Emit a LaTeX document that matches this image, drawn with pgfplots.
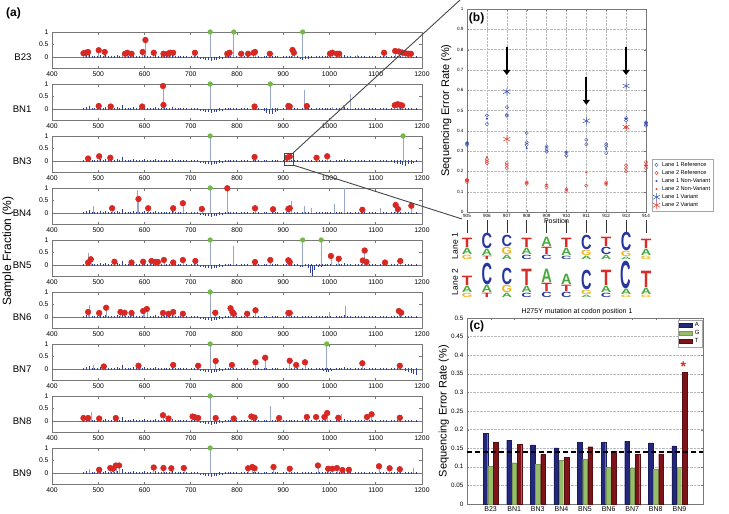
\documentclass[border=0pt]{standalone}
\usepackage{fontspec}
\setmainfont{Liberation Sans}
\usepackage{graphicx}
\usepackage{pgfplots}
\usepackage{pgfplotstable}
\pgfplotsset{compat=1.18}
\usetikzlibrary{arrows.meta}

\definecolor{axgray}{RGB}{120,120,120}
\definecolor{noiseblue}{RGB}{45,65,155}
\definecolor{stemgray}{RGB}{150,165,200}
\definecolor{dotred}{RGB}{215,40,35}
\definecolor{dotgreen}{RGB}{115,185,70}
\definecolor{lblue}{RGB}{60,80,180}
\definecolor{lred}{RGB}{230,60,50}
\definecolor{barA}{RGB}{35,40,125}
\definecolor{barG}{RGB}{150,190,105}
\definecolor{barT}{RGB}{125,20,25}
\definecolor{logoC}{RGB}{40,55,160}
\definecolor{logoT}{RGB}{215,45,40}
\definecolor{logoA}{RGB}{70,170,60}
\definecolor{logoG}{RGB}{240,180,30}

% shared background of small error spikes (sample fraction, %)
\pgfplotstableread{
x up dn
468 .05 -.02
474 .08 -.03
480 .12 -.02
486 .04 -.04
492 .06 -.02
498 .03 -.03
504 .07 -.02
510 .05 -.04
516 .09 -.02
522 .04 -.03
528 .06 -.02
534 .03 -.03
540 .08 -.02
546 .05 -.04
552 .15 -.02
558 .04 -.03
564 .06 -.02
570 .03 -.03
576 .07 -.02
582 .05 -.04
588 .04 -.02
594 .06 -.03
600 .10 -.02
606 .03 -.03
612 .05 -.02
618 .04 -.04
624 .07 -.02
630 .03 -.03
636 .05 -.02
642 .04 -.03
648 .06 -.02
654 .03 -.04
660 .08 -.02
666 .04 -.03
672 .03 -.02
678 .05 -.03
684 .04 -.02
690 .06 -.03
696 .02 -.02
702 .04 -.04
708 .03 -.03
714 .05 -.04
720 .02 -.06
726 .01 -.09
732 .02 -.11
738 .01 -.13
744 .02 -.15
750 .01 -.13
756 .02 -.12
762 .03 -.09
768 .02 -.06
774 .04 -.03
780 .03 -.02
786 .05 -.03
792 .03 -.02
798 .04 -.04
804 .02 -.02
810 .05 -.03
816 .03 -.02
822 .04 -.03
828 .02 -.02
834 .06 -.04
840 .03 -.02
846 .04 -.03
852 .02 -.02
858 .03 -.03
864 .05 -.02
870 .02 -.04
876 .04 -.02
882 .03 -.03
888 .05 -.02
894 .02 -.03
900 .04 -.02
906 .03 -.04
912 .06 -.02
918 .04 -.03
924 .03 -.02
930 .05 -.03
936 .02 -.02
942 .04 -.04
948 .06 -.02
954 .03 -.03
960 .05 -.02
966 .02 -.03
972 .04 -.02
978 .03 -.04
984 .05 -.02
990 .04 -.03
996 .03 -.02
1002 .06 -.03
1008 .02 -.02
1014 .05 -.04
1020 .04 -.02
1026 .03 -.03
1032 .07 -.02
1038 .03 -.03
1044 .04 -.02
1050 .02 -.04
1056 .05 -.02
1062 .03 -.03
1068 .04 -.02
1074 .06 -.03
1080 .02 -.02
1086 .04 -.04
1092 .03 -.02
1098 .05 -.03
1104 .02 -.02
1110 .04 -.03
1116 .03 -.02
1122 .05 -.04
1128 .02 -.02
1134 .04 -.03
1140 .06 -.02
1146 .03 -.03
1152 .05 -.02
1158 .02 -.04
1164 .04 -.02
1170 .03 -.03
1176 .05 -.02
1182 .02 -.03
1188 .04 -.02
}\noisetab

\pgfplotsset{
  arow/.style={
    scale only axis, width=370pt, height=36.5pt, anchor=north west,
    xmin=400, xmax=1200, ymin=-0.46, ymax=1,
    xtick={400,500,...,1200}, ytick={0,0.5,1},
    tick align=inside, major tick length=2.5pt,
    axis line style={axgray, line width=0.6pt},
    tick style={axgray, line width=0.5pt},
    ticklabel style={font=\fontsize{6.8}{7}\selectfont},
    /pgf/number format/assume math mode=true,
    /pgf/number format/set thousands separator={},
    scaled ticks=false,
    clip=false},
  zeroline/.style={axgray, line width=0.5pt, no markers},
  noise/.style={ycomb, noiseblue, line width=0.4pt, no markers},
  stem/.style={ycomb, stemgray, line width=0.5pt, no markers},
  gstem/.style={ycomb, stemgray, line width=0.6pt, mark=*, mark size=2.3pt,
    mark options={fill=dotgreen, draw=dotgreen}},
  rstem/.style={ycomb, stemgray, line width=0.6pt, mark=*, mark size=2.8pt,
    mark options={fill=dotred, draw=dotred}},
}
\tikzset{rowlab/.style={anchor=east, xshift=-17pt, font=\fontsize{9.6}{11}\selectfont}}

\newcommand\logo[5]{\pgfmathsetmacro\hh{#3-0.7}\node[inner sep=0pt, anchor=north, text=#5] at (#1pt,-#2pt)
  {\resizebox{10.5pt}{\hh pt}{\bfseries #4}};}

\begin{document}
\begin{tikzpicture}
\useasboundingbox (0,0) rectangle (729pt,-514pt);

% ---------------- panel (a) ----------------
\begin{axis}[arow, at={(52pt,-32pt)}]
\addplot[zeroline] coordinates {(400,0) (1200,0)};
\addplot[noise] table[x=x,y=up] {\noisetab};
\addplot[noise] table[x=x,y=dn] {\noisetab};
\addplot[noise] coordinates {(930,-.05) (936,-.08) (942,-.1) (948,-.09) (954,-.06)};
\addplot[stem] coordinates {(552,.22) (1060,.1)};
\addplot[gstem] coordinates {(742,1) (793,1) (942,1)};
\addplot[rstem] coordinates {(468,.15) (473,.17) (478,.2) (501,.27) (514,.2) (558,.13) (563,.17) (572,.13) (596,.2) (602,.68) (620,.17) (641,.13) (650,.13) (655,.17) (662,.17) (709,.17) (779,.13) (784,.17) (809,.13) (824,.13) (836,.17) (839,.2) (871,.13) (920,.28) (923,.17) (1001,.13) (1006,.17) (1016,.13) (1021,.13) (1118,.17) (1142,.24) (1150,.22) (1157,.18) (1164,.15) (1170,.13) (1176,.13)};
\node[rowlab] at (axis cs:400,0) {B23};
\end{axis}

\begin{axis}[arow, at={(52pt,-84pt)}]
\addplot[zeroline] coordinates {(400,0) (1200,0)};
\addplot[noise] table[x=x,y=up] {\noisetab};
\addplot[noise] table[x=x,y=dn] {\noisetab};
\addplot[noise] coordinates {(852,-.05) (858,-.09) (864,-.14) (870,-.2) (876,-.18) (882,-.12) (888,-.07)};
\addplot[stem] coordinates {(945,.75) (1045,.6) (1030,.15) (1005,.1)};
\addplot[gstem] coordinates {(742,1) (872,1)};
\addplot[rstem] coordinates {(501,.12) (527,.1) (595,.1) (640,.92) (641,.16) (838,.1) (911,.12) (914,.1) (951,.12) (1141,.15) (1147,.19) (1152,.17) (1157,.14)};
\node[rowlab] at (axis cs:400,0) {BN1};
\end{axis}

\begin{axis}[arow, at={(52pt,-136pt)}]
\addplot[zeroline] coordinates {(400,0) (1200,0)};
\addplot[noise] table[x=x,y=up] {\noisetab};
\addplot[noise] table[x=x,y=dn] {\noisetab};
\addplot[noise] coordinates {(1140,-.06) (1146,-.1) (1152,-.13) (1158,-.15) (1164,-.18) (1170,-.12) (1176,-.1) (1182,-.07)};
\addplot[gstem] coordinates {(742,1) (1159,1)};
\addplot[rstem] coordinates {(478,.1) (502,.19) (526,.13) (838,.16) (908,.13) (914,.18) (972,.13) (995,.19)};
\node[rowlab] at (axis cs:400,0) {BN3};
\end{axis}

\begin{axis}[arow, at={(52pt,-188pt)}]
\addplot[zeroline] coordinates {(400,0) (1200,0)};
\addplot[noise] table[x=x,y=up] {\noisetab};
\addplot[noise] table[x=x,y=dn] {\noisetab};
\addplot[stem] coordinates {(490,.3) (584,.92) (918,.5) (946,.3) (1011,.38) (1031,1) (1110,.2) (960,.2)};
\addplot[gstem] coordinates {(742,1)};
\addplot[rstem] coordinates {(530,.19) (587,.56) (608,.19) (662,.19) (683,.39) (724,.16) (779,.99) (839,.19) (878,.15) (911,.16) (914,.19) (1071,.13) (1143,.32) (1148,.16) (1177,.29)};
\node[rowlab] at (axis cs:400,0) {BN4};
\end{axis}

\begin{axis}[arow, at={(52pt,-240pt)}]
\addplot[zeroline] coordinates {(400,0) (1200,0)};
\addplot[noise] table[x=x,y=up] {\noisetab};
\addplot[noise] table[x=x,y=dn] {\noisetab};
\addplot[noise] coordinates {(936,-.06) (942,-.08) (948,-.05) (954,-.1) (958,-.3) (963,-.45) (968,-.2) (976,-.06) (982,-.08) (988,-.05)};
\addplot[stem] coordinates {(478,.5) (791,.75)};
\addplot[gstem] coordinates {(742,1) (942,1) (982,1)};
\addplot[rstem] coordinates {(478,.1) (484,.23) (535,.13) (572,.1) (597,.13) (615,.16) (624,.12) (629,.12) (642,.2) (662,.1) (683,.2) (710,.16) (839,.12) (872,.2) (911,.19) (914,.12) (1003,.36) (1020,.25) (1072,.18) (1076,.58) (1080,.12) (1120,.1) (1153,.16)};
\node[rowlab] at (axis cs:400,0) {BN5};
\end{axis}

\begin{axis}[arow, at={(52pt,-292pt)}]
\addplot[zeroline] coordinates {(400,0) (1200,0)};
\addplot[noise] table[x=x,y=up] {\noisetab};
\addplot[noise] table[x=x,y=dn] {\noisetab};
\addplot[stem] coordinates {(480,.5) (600,.25) (1000,.2) (1035,.45)};
\addplot[gstem] coordinates {(742,1)};
\addplot[rstem] coordinates {(478,.2) (502,.16) (517,.37) (548,.2) (557,.17) (572,.16) (597,.24) (605,.32) (640,.16) (652,.13) (662,.2) (683,.13) (753,.17) (786,.35) (790,.2) (793,.13) (822,.13) (840,.27) (911,.16) (914,.16) (1150,.24) (1155,.17)};
\node[rowlab] at (axis cs:400,0) {BN6};
\end{axis}

\begin{axis}[arow, at={(52pt,-344pt)}]
\addplot[zeroline] coordinates {(400,0) (1200,0)};
\addplot[noise] table[x=x,y=up] {\noisetab};
\addplot[noise] table[x=x,y=dn] {\noisetab};
\addplot[noise] coordinates {(980,-.05) (986,-.08) (992,-.12) (998,-.1) (1004,-.08) (1010,-.05) (1164,-.06) (1170,-.1) (1176,-.16) (1182,-.2) (1188,-.22)};
\addplot[stem] coordinates {(490,.15) (590,.12)};
\addplot[gstem] coordinates {(742,1) (994,1)};
\addplot[rstem] coordinates {(512,.1) (587,.13) (662,.16) (716,.13) (754,.32) (789,.16) (840,.27) (861,.45) (914,.33) (928,.16) (947,.27) (1071,.23) (1152,.13)};
\node[rowlab] at (axis cs:400,0) {BN7};
\end{axis}

\begin{axis}[arow, at={(52pt,-396pt)}]
\addplot[zeroline] coordinates {(400,0) (1200,0)};
\addplot[noise] table[x=x,y=up] {\noisetab};
\addplot[noise] table[x=x,y=dn] {\noisetab};
\addplot[stem] coordinates {(485,.35) (872,.62) (1025,.3)};
\addplot[gstem] coordinates {(742,1)};
\addplot[rstem] coordinates {(468,.12) (478,.12) (502,.1) (538,.12) (640,.23) (652,.1) (704,.18) (709,.15) (716,.12) (754,.12) (793,.1) (831,.18) (838,.14) (891,.12) (951,.16) (971,.16) (989,.16) (995,.32) (1019,.13) (1081,.16) (1091,.27) (1152,.13)};
\node[rowlab] at (axis cs:400,0) {BN8};
\end{axis}

\begin{axis}[arow, at={(52pt,-448pt)}]
\addplot[zeroline] coordinates {(400,0) (1200,0)};
\addplot[noise] table[x=x,y=up] {\noisetab};
\addplot[noise] table[x=x,y=dn] {\noisetab};
\addplot[stem] coordinates {(480,.15) (1182,.2)};
\addplot[gstem] coordinates {(742,1)};
\addplot[rstem] coordinates {(502,.13) (526,.2) (532,.17) (538,.3) (545,.3) (620,.22) (641,.2) (658,.19) (685,.2) (824,.19) (833,.24) (838,.19) (879,.24) (914,.17) (975,.3) (997,.17) (1006,.17) (1016,.2) (1028,.12) (1042,.13) (1107,.27) (1130,.19) (1152,.15)};
\node[rowlab] at (axis cs:400,0) {BN9};
\end{axis}

\node[font=\bfseries\fontsize{12}{14}\selectfont, anchor=north west, inner sep=0pt] at (6pt,-8pt) {(a)};
\node[rotate=90, font=\fontsize{12}{14}\selectfont, inner sep=0pt] at (8pt,-251pt) {Sample Fraction (\%)};

% zoom box and connector lines
\draw[gray!55!black, line width=0.9pt] (284pt,-153pt) rectangle (293pt,-165pt);
\draw[gray!55!black, line width=0.9pt] (293pt,-153pt) -- (460pt,0pt);
\draw[gray!55!black, line width=0.9pt] (293pt,-165pt) -- (462pt,-219pt);

% ---------------- panel (b) ----------------
\begin{axis}[scale only axis, width=179pt, height=203pt, at={(467pt,-9pt)}, anchor=north west,
  xmin=905, xmax=914, ymin=0, ymax=1,
  xtick={905,906,...,914}, ytick={0,0.1,0.2,0.3,0.4,0.5,0.6,0.7,0.8,0.9,1},
  grid=major, grid style={densely dotted, gray!55},
  tick align=inside, major tick length=2pt,
  axis line style={axgray, line width=0.6pt}, tick style={axgray},
  ticklabel style={font=\fontsize{4.6}{5}\selectfont},
  xticklabel style={yshift=1pt},
  /pgf/number format/assume math mode=true,
  /pgf/number format/set thousands separator={},
  scaled ticks=false,
  xlabel={Position}, xlabel style={font=\fontsize{7}{8}\selectfont, yshift=6pt},
  ylabel={Sequencing Error Rate (\%)},
  ylabel style={font=\fontsize{11}{12}\selectfont, at={(axis description cs:-0.068,0.5)}, anchor=south},
  legend style={at={(axis description cs:1.034,0.005)}, anchor=south west,
    font=\fontsize{5.6}{6}\selectfont, draw=gray!70, inner sep=0.8pt, row sep=-1.5pt,
    cells={anchor=west}},
  legend image code/.code={\draw[mark repeat=2,mark phase=2,#1] plot coordinates {(0pt,0pt) (6pt,0pt) (12pt,0pt)};},
  clip=false]
\addplot[only marks, mark=o, mark size=1.7pt, lblue, mark options={line width=0.4pt}] coordinates {
 (905,.34) (905,.335) (905,.33) (906,.475) (906,.433) (907,.516) (907,.479) (907,.474)
 (908,.389) (908,.343) (908,.331) (909,.323) (909,.31) (909,.298) (910,.293) (910,.277)
 (911,.356) (911,.334) (912,.334) (912,.323) (912,.29) (913,.462) (913,.451)
 (914,.441) (914,.434) (914,.425)};
\addlegendentry{Lane 1 Reference}
\addplot[only marks, mark=o, mark size=1.7pt, lred, mark options={line width=0.4pt}] coordinates {
 (905,.16) (905,.155) (905,.148) (906,.26) (906,.25) (906,.24) (907,.241) (907,.23) (907,.216)
 (908,.146) (908,.139) (909,.131) (909,.121) (910,.113) (910,.102) (911,.13)
 (912,.146) (912,.138) (913,.418) (913,.23) (913,.216) (913,.2) (914,.246) (914,.23) (914,.216)};
\addlegendentry{Lane 2 Reference}
\addplot[only marks, mark=*, mark size=0.8pt, lblue] coordinates {
 (905,.34) (906,.46) (908,.315) (909,.32) (910,.295) (912,.31) (913,.46) (914,.44)};
\addlegendentry{Lane 1 Non-Variant}
\addplot[only marks, mark=*, mark size=0.8pt, lred] coordinates {
 (905,.16) (906,.27) (908,.145) (909,.135) (910,.11) (911,.195) (912,.14) (914,.23)};
\addlegendentry{Lane 2 Non-Variant}
\addplot[only marks, mark=asterisk, mark size=4pt, lblue, mark options={line width=0.5pt}] coordinates {
 (907,.593) (911,.449) (913,.621)};
\addlegendentry{Lane 1 Variant}
\addplot[only marks, mark=asterisk, mark size=4pt, lred, mark options={line width=0.5pt}] coordinates {
 (907,.359) (913,.418)};
\addlegendentry{Lane 2 Variant}
\draw[-{Triangle[width=7pt,length=5pt]}, line width=2.2pt] (axis cs:907,.815) -- (axis cs:907,.675);
\draw[-{Triangle[width=7pt,length=5pt]}, line width=2.2pt] (axis cs:911,.667) -- (axis cs:911,.528);
\draw[-{Triangle[width=7pt,length=5pt]}, line width=2.2pt] (axis cs:913,.815) -- (axis cs:913,.675);
\node[font=\bfseries\fontsize{12}{14}\selectfont, anchor=north west, inner sep=0pt] at (axis description cs:0.01,0.98) {(b)};
\end{axis}

% sequence logos
\foreach \xx in {467,486.9,506.8,526.7,546.6,566.4,586.3,606.2,626.1,646}
  \draw[gray!40!black, line width=0.6pt] (\xx pt,-220pt) -- (\xx pt,-233pt);
\node[rotate=90, font=\fontsize{8.5}{10}\selectfont] at (455pt,-246pt) {Lane 1};
\node[rotate=90, font=\fontsize{8.5}{10}\selectfont] at (455pt,-282pt) {Lane 2};
% lane 1
\logo{467}{238}{10}{T}{logoT}\logo{467}{248}{7}{A}{logoA}\logo{467}{255}{5}{G}{logoG}
\logo{486.9}{233}{16}{C}{logoC}\logo{486.9}{249}{7}{A}{logoA}\logo{486.9}{256}{4}{T}{logoT}
\logo{506.8}{235}{12}{C}{logoC}\logo{506.8}{247}{8}{G}{logoG}\logo{506.8}{255}{5}{A}{logoA}
\logo{526.7}{238}{10}{T}{logoT}\logo{526.7}{248}{7}{A}{logoA}\logo{526.7}{255}{5}{C}{logoC}
\logo{546.6}{237}{10}{A}{logoA}\logo{546.6}{247}{8}{T}{logoT}\logo{546.6}{255}{5}{C}{logoC}
\logo{566.4}{238}{10}{T}{logoT}\logo{566.4}{248}{8}{A}{logoA}\logo{566.4}{256}{4}{C}{logoC}
\logo{586.3}{235}{15}{C}{logoC}\logo{586.3}{250}{6}{G}{logoG}\logo{586.3}{256}{4}{A}{logoA}
\logo{606.2}{237}{10}{T}{logoT}\logo{606.2}{247}{8}{C}{logoC}\logo{606.2}{255}{5}{A}{logoA}
\logo{626.1}{232}{19}{C}{logoC}\logo{626.1}{251}{6}{G}{logoG}\logo{626.1}{257}{3}{A}{logoA}
\logo{646}{239}{10}{T}{logoT}\logo{646}{249}{7}{A}{logoA}\logo{646}{256}{4}{G}{logoG}
% lane 2
\logo{467}{276}{10}{T}{logoT}\logo{467}{286}{7}{A}{logoA}\logo{467}{293}{5}{G}{logoG}
\logo{486.9}{263}{22}{C}{logoC}\logo{486.9}{285}{8}{A}{logoA}\logo{486.9}{293}{5}{T}{logoT}
\logo{506.8}{268}{17}{C}{logoC}\logo{506.8}{285}{8}{G}{logoG}\logo{506.8}{293}{5}{A}{logoA}
\logo{526.7}{269}{17}{T}{logoT}\logo{526.7}{286}{7}{A}{logoA}\logo{526.7}{293}{5}{C}{logoC}
\logo{546.6}{269}{14}{A}{logoA}\logo{546.6}{283}{9}{T}{logoT}\logo{546.6}{292}{6}{C}{logoC}
\logo{566.4}{274}{11}{A}{logoA}\logo{566.4}{285}{7}{T}{logoT}\logo{566.4}{292}{6}{C}{logoC}
\logo{586.3}{270}{20}{C}{logoC}\logo{586.3}{290}{5}{G}{logoG}\logo{586.3}{295}{3}{A}{logoA}
\logo{606.2}{270}{16}{T}{logoT}\logo{606.2}{286}{7}{A}{logoA}\logo{606.2}{293}{5}{C}{logoC}
\logo{626.1}{261}{28}{C}{logoC}\logo{626.1}{289}{6}{A}{logoA}\logo{626.1}{295}{3}{G}{logoG}
\logo{646}{271}{17}{T}{logoT}\logo{646}{288}{7}{A}{logoA}\logo{646}{295}{3}{G}{logoG}
\node[font=\fontsize{7}{8}\selectfont] at (577pt,-312pt) {H275Y mutation at codon position 1};

% ---------------- panel (c) ----------------
\begin{axis}[scale only axis, width=236pt, height=186pt, at={(467pt,-318pt)}, anchor=north west,
  xmin=0, xmax=10, ymin=0, ymax=0.5,
  ybar=0.6pt, bar width=4.6pt,
  xtick={1,2,...,9}, xticklabels={B23,BN1,BN3,BN4,BN5,BN6,BN7,BN8,BN9},
  ytick={0,0.05,0.1,0.15,0.2,0.25,0.3,0.35,0.4,0.45,0.5},
  scaled ticks=false,
  yticklabel style={/pgf/number format/fixed, /pgf/number format/precision=2},
  ymajorgrids, grid style={densely dotted, gray!55},
  tick align=inside, major tick length=2pt,
  axis line style={axgray, line width=0.6pt}, tick style={axgray},
  yticklabel style={font=\fontsize{6.3}{7}\selectfont},
  xticklabel style={font=\fontsize{7}{8}\selectfont, yshift=1pt},
  /pgf/number format/assume math mode=true,
  ylabel={Sequencing Error Rate (\%)},
  ylabel style={font=\fontsize{11}{12}\selectfont, at={(axis description cs:-0.062,0.5)}, anchor=south},
  legend style={at={(axis description cs:0.998,0.99)}, anchor=north east,
    font=\fontsize{6}{6}\selectfont, draw=gray!70, inner sep=0.8pt, row sep=-1.8pt,
    cells={anchor=west}},
  legend image code/.code={\draw[#1] (0pt,-1.8pt) rectangle (13pt,2.6pt);},
  clip=false]
\addplot[fill=barA, draw=barA!70!black] coordinates {
 (1,.19) (2,.172) (3,.159) (4,.151) (5,.166) (6,.166) (7,.169) (8,.164) (9,.156)};
\addlegendentry{A}
\addplot[fill=barG, draw=barG!80!black] coordinates {
 (1,.102) (2,.111) (3,.107) (4,.118) (5,.12) (6,.099) (7,.097) (8,.093) (9,.099)};
\addlegendentry{G}
\addplot[fill=barT, draw=barT!70!black] coordinates {
 (1,.165) (2,.161) (3,.133) (4,.126) (5,.154) (6,.143) (7,.133) (8,.135) (9,.353)};
\addlegendentry{T}
\draw[black, line width=1.3pt, dash pattern=on 5pt off 3pt] (axis cs:0,0.14) -- (axis cs:10,0.14);
\node[text=dotred, font=\bfseries\fontsize{14}{14}\selectfont, inner sep=0pt, anchor=south] at ([xshift=4pt]axis cs:9,0.356) {*};
\node[font=\bfseries\fontsize{12}{14}\selectfont, anchor=north west, inner sep=0pt] at (axis description cs:0.01,0.985) {(c)};
\end{axis}
\end{tikzpicture}
\end{document}
